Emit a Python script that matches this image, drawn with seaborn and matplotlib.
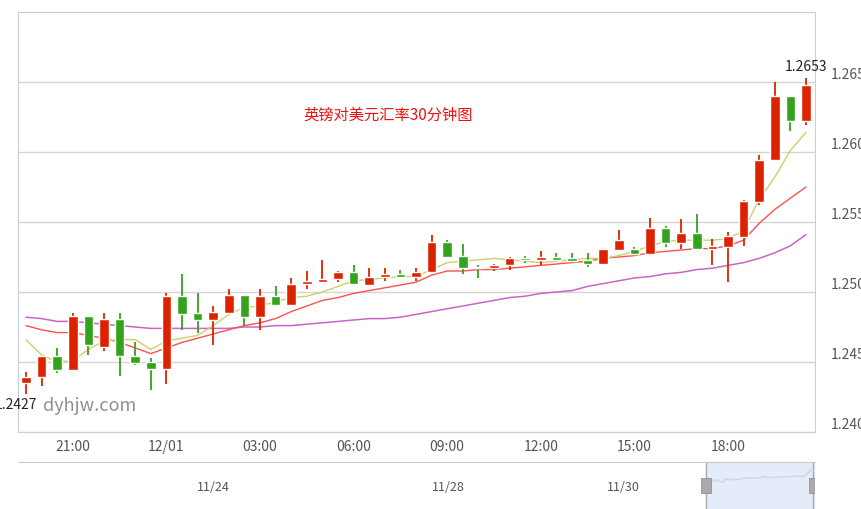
"""
GBP/USD 30-minute candlestick chart with moving averages.
"""
import numpy as np
import pandas as pd
import matplotlib
matplotlib.use("Agg")
import matplotlib.pyplot as plt
import seaborn as sns

opens = [1.2435, 1.2439, 1.2454, 1.2444, 1.2483, 1.2461, 1.2481, 1.2454, 1.2450, 1.2445,
         1.2497, 1.2485, 1.2480, 1.2485, 1.2498, 1.2482, 1.2497, 1.2491, 1.2506, 1.2507,
         1.2509, 1.2514, 1.2505, 1.2511, 1.2513, 1.2511, 1.2514, 1.2536, 1.2526, 1.2518,
         1.2517, 1.2519, 1.2524, 1.2523, 1.2525, 1.2524, 1.2523, 1.2520, 1.2530, 1.2531,
         1.2527, 1.2546, 1.2535, 1.2542, 1.2531, 1.2532, 1.2539, 1.2564, 1.2594, 1.2640,
         1.2622]
closes = [1.2439, 1.2454, 1.2444, 1.2483, 1.2462, 1.2481, 1.2454, 1.2449, 1.2445, 1.2497,
          1.2484, 1.2480, 1.2486, 1.2498, 1.2482, 1.2497, 1.2491, 1.2506, 1.2508, 1.2509,
          1.2514, 1.2506, 1.2511, 1.2513, 1.2511, 1.2514, 1.2536, 1.2525, 1.2517, 1.2517,
          1.2519, 1.2524, 1.2523, 1.2525, 1.2523, 1.2522, 1.2520, 1.2531, 1.2537, 1.2527,
          1.2546, 1.2535, 1.2542, 1.2531, 1.2533, 1.2540, 1.2565, 1.2594, 1.2640, 1.2622,
          1.2648]
highs = [1.2443, 1.2454, 1.2460, 1.2485, 1.2483, 1.2485, 1.2485, 1.2464, 1.2453, 1.2499,
         1.2513, 1.2499, 1.2490, 1.2502, 1.2498, 1.2502, 1.2504, 1.2510, 1.2515, 1.2523,
         1.2515, 1.2519, 1.2517, 1.2517, 1.2516, 1.2517, 1.2541, 1.2537, 1.2534, 1.2519,
         1.2520, 1.2525, 1.2526, 1.2529, 1.2528, 1.2528, 1.2528, 1.2531, 1.2544, 1.2532,
         1.2553, 1.2547, 1.2552, 1.2556, 1.2538, 1.2543, 1.2566, 1.2598, 1.2650, 1.2640,
         1.2653]
lows = [1.2427, 1.2433, 1.2442, 1.2444, 1.2455, 1.2458, 1.2440, 1.2448, 1.2430, 1.2434,
        1.2473, 1.2471, 1.2462, 1.2485, 1.2476, 1.2473, 1.2491, 1.2491, 1.2502, 1.2507,
        1.2507, 1.2506, 1.2505, 1.2508, 1.2511, 1.2508, 1.2514, 1.2524, 1.2513, 1.2510,
        1.2515, 1.2516, 1.2521, 1.2519, 1.2522, 1.2521, 1.2518, 1.2520, 1.2529, 1.2527,
        1.2527, 1.2532, 1.2531, 1.2531, 1.2519, 1.2507, 1.2533, 1.2562, 1.2594, 1.2615,
        1.2619]
ma_yellow = [1.2466, 1.2455, 1.2450, 1.2451, 1.2459, 1.2465, 1.2466, 1.2466, 1.2459, 1.2465,
             1.2467, 1.2469, 1.2476, 1.2484, 1.2489, 1.2490, 1.2493, 1.2496, 1.2497, 1.2500,
             1.2504, 1.2508, 1.2509, 1.2510, 1.2511, 1.2511, 1.2516, 1.2521, 1.2522, 1.2523,
             1.2524, 1.2523, 1.2522, 1.2521, 1.2522, 1.2523, 1.2524, 1.2524, 1.2526, 1.2529,
             1.2533, 1.2536, 1.2537, 1.2537, 1.2537, 1.2538, 1.2544, 1.2566, 1.2582, 1.2601,
             1.2614]
ma_red = [1.2476, 1.2473, 1.2471, 1.2471, 1.2469, 1.2467, 1.2464, 1.2460, 1.2456, 1.2460,
          1.2464, 1.2467, 1.2470, 1.2473, 1.2476, 1.2478, 1.2481, 1.2486, 1.2490, 1.2494,
          1.2496, 1.2499, 1.2501, 1.2503, 1.2505, 1.2507, 1.2512, 1.2515, 1.2515, 1.2516,
          1.2516, 1.2517, 1.2518, 1.2519, 1.2520, 1.2521, 1.2522, 1.2524, 1.2525, 1.2526,
          1.2528, 1.2529, 1.2530, 1.2531, 1.2531, 1.2533, 1.2537, 1.2549, 1.2559, 1.2567,
          1.2575]
ma_purple = [1.2482, 1.2481, 1.2479, 1.2479, 1.2478, 1.2477, 1.2476, 1.2475, 1.2474, 1.2474,
             1.2474, 1.2474, 1.2474, 1.2474, 1.2475, 1.2475, 1.2476, 1.2476, 1.2477, 1.2478,
             1.2479, 1.2480, 1.2481, 1.2481, 1.2482, 1.2484, 1.2486, 1.2488, 1.2490, 1.2492,
             1.2494, 1.2496, 1.2497, 1.2499, 1.2500, 1.2501, 1.2504, 1.2506, 1.2508, 1.2510,
             1.2511, 1.2513, 1.2514, 1.2516, 1.2517, 1.2519, 1.2521, 1.2524, 1.2528, 1.2533,
             1.2541]
price_ticks = [1.240, 1.245, 1.250, 1.255, 1.260, 1.265]
price_labels = ["1.2400", "1.2450", "1.2500", "1.2550", "1.2600", "1.2650"]
time_labels = ["21:00", "12/01", "03:00", "06:00", "09:00", "12:00", "15:00", "18:00"]
time_ticks = [3, 9, 15, 21, 27, 33, 39, 45]
nav_labels = ["11/24", "11/28", "11/30"]
nav_ticks = [0.245, 0.54, 0.76]

UP = "#dd2200"
DOWN = "#33a31c"
FRAME = "#c6d0dc"

sns.set_style("white")
plt.rcParams['font.family'] = ['Noto Sans CJK SC', 'DejaVu Sans']

W, H = 862, 509
fig = plt.figure(figsize=(W / 100, H / 100), dpi=100)
ax = fig.add_axes([18 / W, 1 - 432 / H, (815 - 18) / W, (432 - 12) / H])

df = pd.DataFrame({"i": np.arange(len(opens)), "open": opens, "close": closes,
                   "high": highs, "low": lows, "ma5": ma_yellow,
                   "ma10": ma_red, "ma30": ma_purple})

# moving average lines
sns.lineplot(data=df, x="i", y="ma30", ax=ax, color="#c766c7", lw=1.1, zorder=2)
sns.lineplot(data=df, x="i", y="ma10", ax=ax, color="#ff5050", lw=1.0, zorder=2)
sns.lineplot(data=df, x="i", y="ma5", ax=ax, color="#cfcf6a", lw=1.0, zorder=2)

# candles
colors = [UP if c >= o else DOWN for o, c in zip(df["open"], df["close"])]
ax.vlines(df["i"], df["low"], df["high"], colors=colors, lw=1.3, zorder=3)
bottoms = np.minimum(df["open"], df["close"])
heights = np.maximum(np.abs(df["close"] - df["open"]), 0.00003)
ax.bar(df["i"], heights, bottom=bottoms, width=0.62, color=colors, zorder=4)

ax.set_xlim(-0.513, 50.58)
ax.set_ylim(1.240, 1.270)
ax.yaxis.tick_right()
ax.set_yticks(price_ticks)
ax.set_yticklabels(price_labels)
ax.yaxis.grid(True, color="#d4d4d4", lw=1)
ax.tick_params(axis="y", length=0, pad=11, labelsize=10, labelcolor="#555555")
for lbl in ax.get_yticklabels():
    lbl.set_va("bottom")
ax.set_xticks(time_ticks)
ax.set_xticklabels(time_labels)
ax.tick_params(axis="x", direction="in", length=9, color=FRAME, labelsize=10,
               labelcolor="#555555", pad=6)
ax.set_xlabel("")
ax.set_ylabel("")
for s in ax.spines.values():
    s.set_color(FRAME)

ax.text(0.465, 0.755, "英镑对美元汇率30分钟图", transform=ax.transAxes, color="#ee1111",
        fontsize=11, ha="center", va="center")
ax.text(50, 1.2653 + 0.0003, "1.2653", ha="center", va="bottom", fontsize=10, color="#222222")
ax.text(0.7, 1.2427 - 0.0003, "1.2427", ha="right", va="top", fontsize=10, color="#222222")
ax.text(1.1, 1.2427 - 0.0002, "dyhjw.com", ha="left", va="top", fontsize=13, color="#909090")

# navigator strip
nav = fig.add_axes([18 / W, 0, (815 - 18) / W, (509 - 462) / H])
nav.set_xlim(0, 1)
nav.set_ylim(0, 1)
nav.set_xticks(nav_ticks)
nav.set_xticklabels(nav_labels)
nav.tick_params(axis="x", direction="in", pad=-20, length=0, labelsize=9, labelcolor="#555555")
nav.set_yticks([])
for k, s in nav.spines.items():
    s.set_visible(k == "top")
    s.set_color("#c8c8c8")
x0 = (706 - 18) / (815 - 18)
nav.axvspan(x0, 1, color="#e3ecf8", zorder=0)
nav.plot([x0, x0], [0, 1], color="#aaaaaa", lw=1)
nav.plot([0.998, 0.998], [0, 1], color="#aaaaaa", lw=1)
xs = x0 + (1 - x0) * df["i"] / df["i"].max()
ys = 0.55 + (df["close"] - 1.2427) / (1.2653 - 1.2427) * 0.3
nav.plot(xs, ys, color="#c9d8ea", lw=1)
for hx in (x0, 0.998):
    nav.add_patch(plt.Rectangle((hx - 0.006, 0.35), 0.012, 0.32, facecolor="#aaaaaa",
                                edgecolor="#888888", lw=0.5, zorder=5))

fig.savefig("out.png", dpi=100)
